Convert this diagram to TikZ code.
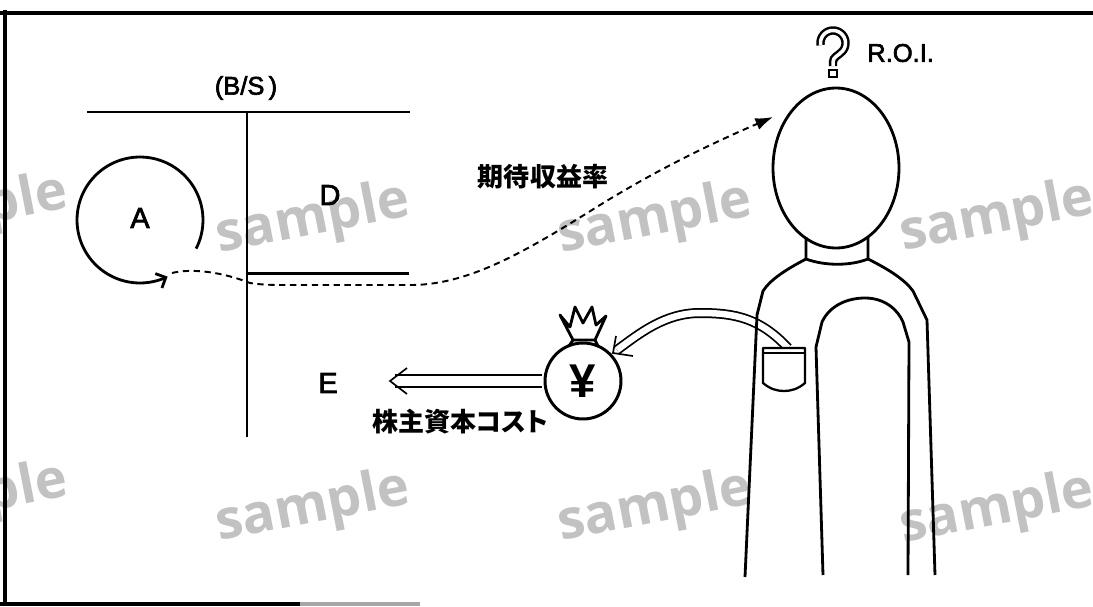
\documentclass[tikz,border=0pt]{standalone}
\usepackage{fontspec}
\setsansfont{Liberation Sans}
\newfontfamily\scanfont{Liberation Sans}[FakeBold=2.5]
\newfontfamily\jpfont{Noto Sans CJK JP}
\newfontfamily\wmfont{Open Sans}
\usetikzlibrary{arrows.meta,shapes.geometric}
\definecolor{wmgray}{RGB}{194,194,194}
\tikzset{
  stroke/.style={line width=1.7pt},
  figline/.style={line width=1.6pt, line join=round},
  latin/.style={font=\scanfont\fontsize{16.5pt}{19pt}\selectfont, inner sep=0pt},
  smalllatin/.style={font=\scanfont\fontsize{14.5pt}{17pt}\selectfont, inner sep=0pt},
  roifont/.style={font=\scanfont\fontsize{14.5pt}{17pt}\selectfont, inner sep=0pt},
  jplabel/.style={font=\jpfont\bfseries\fontsize{14.8pt}{17pt}\selectfont, inner sep=0pt},
  watermark/.style={font=\wmfont\bfseries\fontsize{31pt}{36pt}\selectfont, text=wmgray, rotate=11, inner sep=0pt},
  dashconn/.style={line width=1.1pt, dash pattern=on 3.6pt off 2.6pt},
  dblwide/.style={line width=0.95pt, double=white, double distance=0.2cm},
  dblnarrow/.style={line width=1pt, double=white, double distance=0.13cm},
  barb/.style={line width=0.95pt, line join=miter},
  moneybag/.style={draw, circle, line width=1.7pt, minimum size=1.52cm, inner sep=0pt,
    font=\sffamily\bfseries\fontsize{27pt}{30pt}\selectfont},
  headshape/.style={draw, ellipse, line width=1.6pt, minimum width=2.52cm, minimum height=3.2cm, inner sep=0pt},
}
\begin{document}
\begin{tikzpicture}[x=0.02cm, y=-0.02cm]
\useasboundingbox (0,0) rectangle (1093,606);
\clip (0,0) rectangle (1093,606);
\fill[white] (0,0) rectangle (1093,606);

% background stamps
\foreach \wx/\wy [count=\i] in {-29/212, 313/220, 655/220, 997/218, -29/500, 313/508, 655/508, 997/510}
  \node[watermark] (wm\i) at (\wx,\wy) {sample};

% frame
\draw[line width=2pt] (0,13) -- (1093,13);
\draw[line width=1.8pt] (5,10) -- (5,604);
\draw[line width=1.8pt] (0,604) -- (300,604);
\draw[line width=1.8pt, gray!70] (300,604) -- (420,604);

% balance sheet
\draw[stroke] (87,112) -- (410,112);
\draw[stroke] (247,112) -- (247,437);
\draw[stroke] (247,273) -- (409,273);
\node[smalllatin] (bs) at (246,88) {(B/S\,)};
\node[latin] (labA) at (140,218) {A};
\node[latin] (labD) at (330,195) {D};
\node[latin] (labE) at (328,383) {E};

% circulation around the assets
\draw[line width=1.6pt, -{Straight Barb[length=4.5pt,width=9pt]}]
  plot[smooth, domain=-27:296, samples=90] ({140+63*cos(\x)}, {220-63*sin(\x)});
\coordinate (aTip) at (168,277);

% expected return
\node[jplabel] (yield) at (543,177) {期待収益率};
\coordinate (roiTip) at (773,117);
\draw[dashconn, -{Latex[length=10pt,width=7pt]}]
  ([shift={(4,-4)}]aTip) .. controls (192,268) and (222,272) .. (250,283)
  .. controls (262,285) and (275,285) .. (290,285) -- (413,285)
  .. controls (470,284) and (525,252) .. (600,205)
  .. controls (660,168) and (715,142) .. (roiTip);

% cost of equity
\node[jplabel] (costEq) at (460,422) {株主資本{\addfontfeatures{RawFeature=+palt}コスト}};

% money bag
\node[moneybag] (bag) at (583,381) {¥};
\draw[line width=1.6pt, line join=round, fill=white]
  (573,340) -- (560,315) -- (570,327) -- (575,307) -- (583,323) -- (592,307)
  -- (596,325) -- (606,316) -- (595,340) -- cycle;
\draw[line width=1.6pt] (573,340) -- (569,346) (595,340) -- (598,346);

% arrow from the bag to E
\coordinate (eTip) at (390,381);
\draw[dblwide, shorten <=0.85pt] (bag.west) -- ([shift={(5,0)}]eTip);
\draw[barb] ([shift={(17,-13)}]eTip) -- (eTip) -- ([shift={(17,13)}]eTip);

% arrow from the pocket to the bag
\coordinate (pocketTop) at (788,348);
\coordinate (bagTip) at (613,353);
\draw[dblnarrow] (pocketTop) .. controls (760,318) and (735,313) .. (700,313)
  .. controls (665,313) and (640,333) .. ([shift={(4,-3)}]bagTip);
\draw[barb] ([shift={(3,-17)}]bagTip) -- (bagTip) -- ([shift={(20,3)}]bagTip);

% investor
\node[headshape] (head) at (836,168) {};
\draw[figline] (806,237) -- (806,259) .. controls (825,266) and (850,266) .. (868,259) -- (868,237);
\draw[figline] (806,259) .. controls (785,270) and (770,280) .. (763,291) -- (757,315) -- (745,577);
\draw[figline] (868,259) .. controls (890,270) and (905,280) .. (913,291) -- (927,320) -- (935,575);
\draw[figline] (823,575) -- (816,347) -- (822,322) .. controls (830,305) and (848,298) .. (865,298)
  .. controls (885,298) and (898,310) .. (903,322) -- (909,342) -- (908,575);

% pocket
\draw[line width=1.3pt, fill=white, line join=round]
  (763,348) -- (805,348) -- (805,383) .. controls (798,389) and (791,391) .. (784,391)
  .. controls (777,391) and (770,389) .. (763,383) -- cycle;
\draw[line width=1pt] (763,353) -- (805,353);

% question mark over the head
\draw[line width=1.4pt, double=white, double distance=0.07cm]
  plot[smooth, domain=-190:40, samples=40] ({833+12.5*cos(\x)}, {43+12.5*sin(\x)})
  .. controls (838,56) and (833,57) .. (833,62) -- (833,66);
\draw[line width=1.6pt, fill=white] (829,70) rectangle (837,77);
\node[roifont, anchor=west] (roi) at (867,53) {R.O.I.};
\end{tikzpicture}
\end{document}
